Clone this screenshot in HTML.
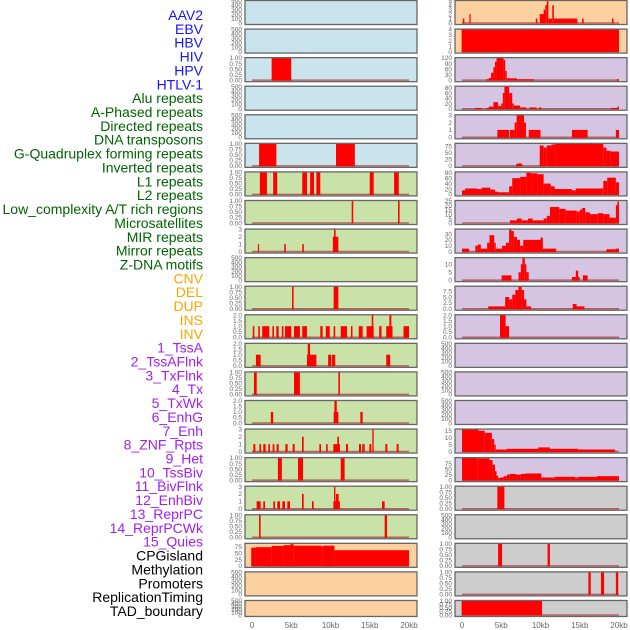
<!DOCTYPE html>
<html><head><meta charset="utf-8">
<style>
body{margin:0;background:#fff;width:630px;height:630px;overflow:hidden}
svg{display:block}
.lbl{font-family:"Liberation Sans",sans-serif;font-size:14px}
.tk{font-family:"Liberation Sans",sans-serif;font-size:6.5px;fill:#666}
.xt{font-family:"Liberation Sans",sans-serif;font-size:8px;fill:#666}
</style></head>
<body>
<svg id="chart" width="630" height="630" xmlns="http://www.w3.org/2000/svg"></svg>
<script>
// ---- labels ----
const labelNames=["AAV2","EBV","HBV","HIV","HPV","HTLV-1","Alu repeats","A-Phased repeats","Directed repeats","DNA transposons","G-Quadruplex forming repeats","Inverted repeats","L1 repeats","L2 repeats","Low_complexity A/T rich regions","Microsatellites","MIR repeats","Mirror repeats","Z-DNA motifs","CNV","DEL","DUP","INS","INV","1_TssA","2_TssAFlnk","3_TxFlnk","4_Tx","5_TxWk","6_EnhG","7_Enh","8_ZNF_Rpts","9_Het","10_TssBiv","11_BivFlnk","12_EnhBiv","13_ReprPC","14_ReprPCWk","15_Quies","CPGisland","Methylation","Promoters","ReplicationTiming","TAD_boundary"];
const labelGroupSizes=[6,13,5,15,5];
const labelGroupColors=["#1414ff","#006400","#ffa500","#a020f0","#000000"];
// ---- tick sets ----
const T500=[0,100,200,300,400,500], T1=[0,0.25,0.5,0.75,1], T2=[0,0.5,1,1.5,2], T3=[0,1,2,3];
// ---- left column data: [startKb,endKb,value] ----
const L0=[],L1=[],L3=[],L4=[],L9=[],L20=[],L21=[];
const L2=[[2.5,5.0,1]];
const L5=[[0.9,3.1,1],[10.7,13.1,1]];
const L6=[[1.0,1.9,1],[2.7,3.2,1],[6.4,7.0,1],[7.4,7.9,1],[8.2,8.7,1],[15.0,15.5,1],[18.1,18.7,1]];
const L7=[[12.7,12.9,1],[18.6,18.8,1]];
const L8=[[0.75,0.9,1],[4.1,4.3,1],[6.4,6.6,1],[10.3,11.0,2],[10.45,10.65,3]];
const L10=[[5.1,5.3,1],[10.4,11.0,1]];
const L11=[[0.1,0.3,1],[0.8,1.0,1],[1.3,2.2,1],[2.6,2.8,1],[3.1,3.4,1],[3.8,4.0,1],[4.2,5.0,1],[5.35,6.1,1],[6.4,7.0,1],[8.7,9.0,1],[9.4,9.9,1],[10.4,10.6,1],[11.3,12.1,1],[12.6,12.8,1],[13.6,14.1,1],[14.6,15.5,1],[15.25,15.45,2],[16.2,16.5,1],[17.1,17.9,1],[17.5,17.75,2],[19.3,20.0,1]];
const L12=[[0.5,1.1,1],[7.0,8.2,1],[7.1,7.4,2],[9.7,10.1,1],[10.2,10.6,1],[17.1,17.6,1]];
const L13=[[0.25,0.6,1],[5.35,6.1,1],[11.0,11.2,1]];
const L14=[[2.4,2.7,1],[10.4,11.0,1],[10.5,10.8,2],[13.8,14.1,1]];
const L15=[[0.17,0.43,1],[0.94,1.15,1],[1.44,1.74,1],[2.08,2.29,1],[2.63,2.85,1],[3.14,3.4,1],[4.25,4.54,1],[5.18,5.44,1],[6.37,6.58,2],[8.58,8.79,1],[9.43,9.64,1],[10.36,11.2,1],[10.87,11.08,2],[11.97,12.23,1],[13.63,13.88,1],[14.05,14.35,1],[14.95,15.2,1],[15.33,15.5,3],[16.98,17.24,1],[18.43,18.68,1]];
const L16=[[3.3,3.8,1],[5.86,6.5,1],[11.3,11.8,1]];
const L17=[[0.59,1.1,1],[1.44,1.66,1],[2.72,2.93,1],[3.23,3.57,1],[3.86,4.2,1],[4.5,4.84,1],[6.37,6.58,2],[7.64,7.86,1],[10.36,11.2,1],[10.7,11.04,2],[10.45,10.62,3],[16.56,16.9,1]];
const L18=[[0.9,1.1,1],[16.9,17.2,1]];
const L19=[[-0.1,0.5,72],[0.5,2.5,74],[2.5,4.0,79],[4.0,4.9,82],[4.9,5.3,86],[5.3,8.8,80],[8.8,9.1,78],[9.1,10.5,80],[10.5,20.0,62]];
// ---- right column data ----
const R12=[],R13=[],R14=[],R18=[];
const R0=[[0.1,0.3,1],[0.94,1.1,2],[9.4,9.6,1],[9.9,10.6,2],[10.4,10.6,3],[10.6,10.8,4],[10.8,11.0,5],[11.0,11.5,1],[11.5,11.7,4],[11.7,14.7,1],[15.3,15.5,1],[19.1,19.3,1]];
const R1=[[-0.05,20.0,4]];
const R2=[[3.1,3.4,5],[3.4,3.7,12],[3.7,4.0,40],[4.0,4.2,70],[4.2,4.4,100],[4.4,5.3,120],[5.3,5.5,110],[5.5,5.7,50],[5.7,7.0,10],[7.0,9.2,5],[19.7,20.0,5]];
const R3=[[1.7,2.5,3],[3.1,3.4,3],[3.4,4.0,8],[4.0,4.6,25],[4.6,5.0,10],[5.0,5.2,20],[5.2,5.4,60],[5.4,6.0,85],[6.0,6.4,60],[6.4,6.6,20],[6.6,7.4,12],[7.4,8.2,5],[8.6,9.5,5],[9.8,10.1,5],[19.0,19.8,3],[19.8,20.0,8]];
const R4=[[4.5,6.0,1],[6.1,6.7,1],[6.7,6.96,2],[6.96,7.9,3],[7.9,8.15,2],[8.5,10.0,1],[14.0,16.0,1],[19.6,20.0,1]];
const R5=[[6.9,7.2,8],[7.2,7.5,10],[7.5,7.7,8],[9.9,10.4,78],[10.4,10.8,70],[10.8,11.4,78],[11.4,11.9,82],[11.9,18.0,85],[18.0,18.4,70],[18.4,18.9,58],[18.9,20.0,55]];
const R6=[[0,0.4,15],[0.4,1.9,22],[1.9,2.5,20],[2.5,3.6,25],[3.6,4.2,18],[4.2,4.6,10],[4.6,6.0,8],[6.0,6.4,30],[6.4,7.4,60],[7.4,8.2,65],[8.2,8.8,80],[8.8,9.6,78],[9.6,10.4,75],[10.4,11.3,40],[11.3,11.8,30],[11.8,14.0,20],[14.0,14.5,15],[14.5,18.0,22],[18.0,18.5,50],[18.5,19.6,62],[19.6,20.0,45]];
const R7=[[6.1,7.0,3],[7.0,7.6,5],[7.6,8.4,3],[8.4,9.0,5],[9.0,10.4,3],[10.4,10.8,5],[10.8,11.2,8],[11.2,12.4,18],[12.4,13.2,16],[13.2,14.6,14],[14.6,15.0,13],[15.0,15.3,15],[15.3,15.7,17],[15.7,16.3,12],[16.3,17.3,10],[17.3,18.0,11],[18.0,18.8,10],[18.8,19.6,6],[19.6,19.8,20],[19.8,20.0,24]];
const R8=[[0,0.9,5],[1.7,2.0,10],[2.0,2.4,12],[2.4,3.2,5],[3.2,3.5,15],[3.5,4.1,28],[4.1,4.3,15],[4.3,5.1,5],[5.1,5.6,10],[5.6,6.0,15],[6.0,6.3,38],[6.3,6.6,35],[6.6,7.0,25],[7.0,7.4,20],[7.4,7.8,10],[7.8,10.0,20],[10.0,10.3,24],[10.3,12.0,5],[18.4,19.6,4],[19.6,20.0,5]];
const R9=[[5.05,6.3,3],[7.2,7.5,5],[7.5,7.7,10],[7.7,8.0,14],[8.0,8.2,10],[8.2,8.5,5],[14.0,14.5,2],[14.5,14.8,6],[14.8,15.0,2],[15.4,16.0,3]];
const R10=[[3.35,5.5,1],[5.5,6.0,5],[6.0,6.4,4],[6.4,6.8,6],[6.8,7.2,8],[7.2,7.6,9.5],[7.6,7.9,8],[7.9,8.2,4],[8.2,8.8,1],[14.1,14.6,2],[14.6,15.6,1]];
const R11=[[4.84,5.56,2],[5.56,6.0,1]];
const R15=[[0,2.1,16],[2.1,2.9,15],[2.9,3.8,13.5],[3.8,4.1,9],[4.1,4.3,5],[4.3,5.7,1.5],[5.7,9.7,2],[9.7,11.2,3],[11.2,11.6,2],[11.6,14.8,2],[14.8,19.5,1.5]];
const R16=[[0,2.0,100],[2.0,3.5,98],[3.5,3.9,90],[3.9,4.2,70],[4.2,4.4,40],[4.4,4.6,20],[4.6,4.9,10],[4.9,5.3,12],[5.3,5.7,18],[5.7,6.1,25],[6.1,6.9,28],[6.9,7.5,25],[7.5,8.1,28],[8.1,10.1,30],[10.1,11.8,12],[11.8,14.4,15],[14.4,14.8,12],[14.8,17.2,15],[17.2,20.0,18]];
const R17=[[4.5,5.4,1]];
const R19=[[4.6,5.1,1],[10.9,11.2,1]];
const R20=[[16.1,16.4,1],[17.7,18.1,1],[19.6,19.9,1]];
const R21=[[-0.05,10.2,1]];
const xTickVals=[0,5,10,15,20];
const xTickLabels=["0","5kb","10kb","15kb","20kb"];

const BLUE="#c9e4ec",GREEN="#c9e2a7",PEACH="#fdd09f",LAV="#d5c5e2",GRAY="#cdcdcd";
const leftPanels=[
 [L0,T500,500,BLUE],[L1,T500,500,BLUE],[L2,T1,1,BLUE],[L3,T500,500,BLUE],[L4,T500,500,BLUE],[L5,T1,1,BLUE],
 [L6,T1,1,GREEN],[L7,T1,1,GREEN],[L8,T3,3,GREEN],[L9,T500,500,GREEN],[L10,T1,1,GREEN],[L11,T2,2,GREEN],
 [L12,T2,2,GREEN],[L13,T1,1,GREEN],[L14,T2,2,GREEN],[L15,T3,3,GREEN],[L16,T1,1,GREEN],[L17,T3,3,GREEN],[L18,T1,1,GREEN],
 [L19,[0,25,50,75],88,PEACH],[L20,T500,500,PEACH],[L21,T500,500,PEACH]];
const rightPanels=[
 [R0,[0,1,2,3,4,5],5,PEACH],[R1,[0,1,2,3,4],4,PEACH],[R2,[0,30,60,90,120],120,LAV],[R3,[0,20,40,60,80],85,LAV],
 [R4,T3,3,LAV],[R5,[0,25,50,75],85,LAV],[R6,[0,20,40,60,80],82,LAV],[R7,[0,5,10,15,20,25],25,LAV],
 [R8,[0,10,20,30],38,LAV],[R9,[0,5,10],14,LAV],[R10,[0,2.5,5,7.5],9.5,LAV],[R11,T2,2,LAV],
 [R12,T500,500,LAV],[R13,T500,500,LAV],[R14,T500,500,LAV],[R15,[0,5,10,15],16,LAV],[R16,[0,25,50,75],100,LAV],
 [R17,T1,1,GRAY],[R18,T500,500,GRAY],[R19,T1,1,GRAY],[R20,T1,1,GRAY],[R21,T1,1,GRAY]];

const NS="http://www.w3.org/2000/svg";
const svg=document.getElementById('chart');
function mk(tag,attrs,parent){const e=document.createElementNS(NS,tag);for(const k in attrs)e.setAttribute(k,attrs[k]);(parent||svg).appendChild(e);return e;}

// labels
let li=0;
labelGroupSizes.forEach((n,g)=>{for(let i=0;i<n;i++){
 const t=mk('text',{x:203,y:15+li*13.86+5,'text-anchor':'end',class:'lbl',fill:labelGroupColors[g]});
 t.textContent=labelNames[li];
 
 
 li++;}});

function fmt(v,ticks){const mx=ticks[ticks.length-1];
 if(mx===1)return v.toFixed(2); if(mx===2||ticks.includes(2.5))return v.toFixed(1); return String(v);}

function drawCol(panels,x0,x1,colName){
 const dx0=x0+7,dx1=x1-8;
 const xs=kb=>dx0+(dx1-dx0)*kb/20;
 panels.forEach((p,r)=>{
  const [data,ticks,max,bg]=p;
  const top=r*28.57, h=(r===21?17:25), bot=top+h;
  const g=mk('g',{});
  
  
  mk('rect',{x:x0,y:top+0.5,width:x1-x0,height:h-1,fill:bg},g);
  const y0=bot-2, yT=top+0.8;
  const ys=v=>y0-(y0-yT)*v/max;
  if(data.length){
   const bl=mk('line',{x1:xs(0),x2:xs(20),y1:y0,y2:y0,stroke:'#b04848','stroke-width':1.5,opacity:0.8},g);
   
   
  }
  data.forEach(d=>{
   const b=mk('rect',{x:xs(d[0]),y:ys(d[2]),width:Math.max(0.8,xs(d[1])-xs(d[0])),height:y0-ys(d[2])+0.5,fill:'#ff0000'},g);
   
   
  });
  mk('rect',{x:x0,y:top+0.5,width:x1-x0,height:h-1,fill:'none',stroke:'#666','stroke-width':1.3},g);
  ticks.forEach(v=>{
   const t=mk('text',{x:x0-3,y:ys(v)+2.3,'text-anchor':'end',class:'tk'},g);
   t.textContent=fmt(v,ticks);
   
   
  });
 });
 xTickVals.forEach((v,i)=>{
  const t=mk('text',{x:xs(v),y:628,'text-anchor':'middle',class:'xt'});
  t.textContent=xTickLabels[i];
  
  
 });
}
drawCol(leftPanels,245,417,'left');
drawCol(rightPanels,455,627,'right');
</script>
</body></html>
